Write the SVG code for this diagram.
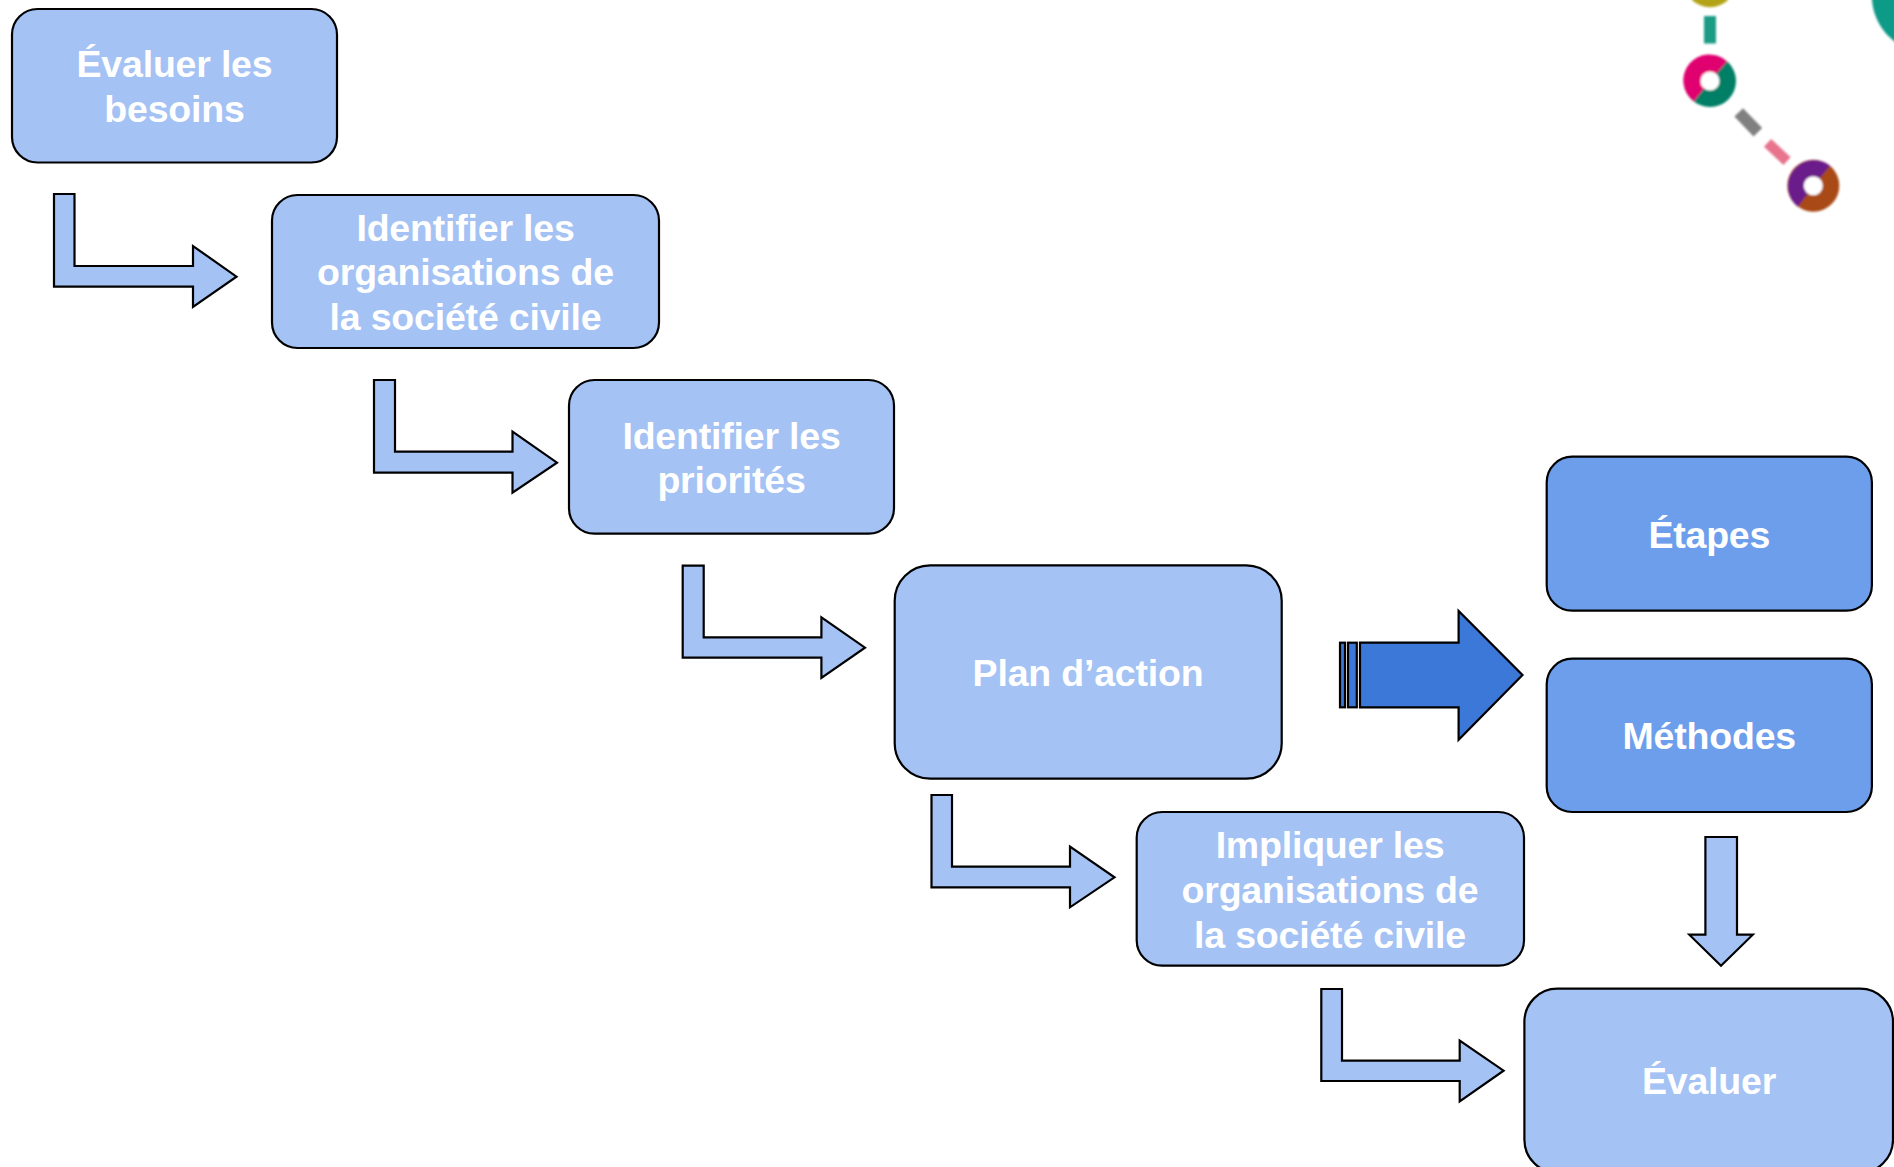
<svg xmlns="http://www.w3.org/2000/svg" width="1894" height="1167" viewBox="0 0 1894 1167">
<style>
.box{fill:#a4c2f4;stroke:#000;stroke-width:2.2}
.dark{fill:#6d9eeb}
.arr{fill:#a4c2f4;stroke:#000;stroke-width:2.2;stroke-linejoin:miter}
.blk{fill:#3c78d8;stroke:#000;stroke-width:2.2}
text{font-family:"Liberation Sans",Arial,sans-serif;font-weight:700;font-size:37.5px;letter-spacing:-0.2px;fill:#fff;text-anchor:middle}
</style>
<defs><filter id="soft" x="-5%" y="-5%" width="110%" height="110%"><feGaussianBlur stdDeviation="0.8"/></filter></defs>
<g id="logo" filter="url(#soft)">
<path d="M1692 -3H1728V0A26 26 0 0 1 1692 0Z" fill="#b3a312"/>
<rect x="1704" y="16" width="12" height="27.500" fill="#1a9c85"/>
<g id="donut1">
<circle cx="1710" cy="81" r="26" fill="#007f66"/>
<path d="M1710 81L1693.900 101.400A26 26 0 1 1 1727.100 61.500Z" fill="#e0006f"/>
<circle cx="1710" cy="81" r="9.500" fill="#fff"/>
</g>
<rect x="-13.800" y="-6" width="27.600" height="12" transform="translate(1748.300,122.300) rotate(46)" fill="#808080"/>
<rect x="-13.300" y="-5.300" width="26.600" height="10.600" transform="translate(1777.300,152) rotate(43)" fill="#e8738c"/>
<g id="donut2">
<circle cx="1813.300" cy="185.700" r="26" fill="#a84a14"/>
<path d="M1813.300 185.700L1797.900 206.700A26 26 0 1 1 1830.100 165.800Z" fill="#6a1b8a"/>
<circle cx="1813.300" cy="185.700" r="9.500" fill="#fff"/>
</g>
<path d="M1872 -3V0C1873 14 1880 32 1898 44V-3Z" fill="#0f9a86"/>
</g>
<g id="connectors">
<path class="arr" d="M54 194H74.500V266H193V246L236.500 276.700L193 307V286.700H54Z"/>
<path class="arr" d="M374 380H395V451.700H512.500V431.700L557 462.700L512.500 492.700V472.700H374Z"/>
<path class="arr" d="M682.700 565.700H703.700V637.300H821.400V617.300L865 647.700L821.400 678V657.700H682.700Z"/>
<path class="arr" d="M931.500 795H952V866.700H1070V846.700L1114.500 877.300L1070 907.300V887.300H931.500Z"/>
<path class="arr" d="M1321.300 989H1342V1060.700H1459.700V1040.700L1503.600 1070.700L1459.700 1101.300V1081H1321.300Z"/>
<path class="arr" d="M1705.400 837H1737V934.700H1752.800L1721 965.700L1689.300 934.700H1705.400Z"/>
<g id="block-arrow">
<rect class="blk" x="1340" y="642.700" width="5" height="64.600"/>
<rect class="blk" x="1348" y="642.700" width="8.800" height="64.600"/>
<path class="blk" d="M1360 642.700H1458.600V611L1522.500 675L1458.600 739.700V707.300H1360Z"/>
</g>
</g>
<g id="n1"><rect class="box" x="12" y="9" width="325" height="153.500" rx="25.500"/><text x="174.500" y="77">Évaluer les</text><text x="174.500" y="122">besoins</text></g>
<g id="n2"><rect class="box" x="272" y="195" width="387" height="153" rx="25.500"/><text x="465.500" y="241">Identifier les</text><text x="465.500" y="285">organisations de</text><text x="465.500" y="329.500">la société civile</text></g>
<g id="n3"><rect class="box" x="569" y="380" width="325" height="153.700" rx="25.500"/><text x="731.500" y="449">Identifier les</text><text x="731.500" y="493">priorités</text></g>
<g id="n4"><rect class="box" x="894.700" y="565.300" width="387" height="213.400" rx="35.500"/><text x="1088" y="686">Plan d’action</text></g>
<g id="n5"><rect class="box" x="1136.700" y="812" width="387.300" height="153.700" rx="25.500"/><text x="1330" y="858">Impliquer les</text><text x="1330" y="903">organisations de</text><text x="1330" y="948">la société civile</text></g>
<g id="n6"><rect class="box dark" x="1546.700" y="456.700" width="325.200" height="154" rx="25.500"/><text x="1709.300" y="547.500">Étapes</text></g>
<g id="n7"><rect class="box dark" x="1546.700" y="658.700" width="325.200" height="153.300" rx="25.500"/><text x="1709.300" y="749">Méthodes</text></g>
<g id="n8"><rect class="box" x="1524.400" y="988.700" width="368.600" height="184" rx="33"/><text x="1709" y="1093.500">Évaluer</text></g>
</svg>
